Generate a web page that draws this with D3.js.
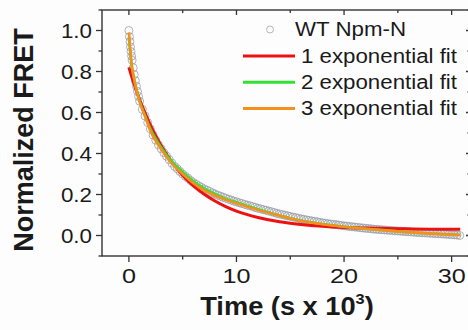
<!DOCTYPE html>
<html>
<head>
<meta charset="utf-8">
<style>
  body { margin: 0; background: #fdfdfd; }
  svg { display: block; }
  text { font-family: "Liberation Sans", Arial, sans-serif; fill: #1a1a1a; }
</style>
</head>
<body>
<script src="https://cdn.jsdelivr.net/npm/d3@7/dist/d3.min.js"></script>
<script>
var width = 468, height = 330;

// measured data (time in s x 10^3, normalized FRET)
var dataTime = [0, 0.05, 0.1, 0.15, 0.2, 0.25, 0.3, 0.4, 0.5, 0.6, 0.7, 0.8, 0.9, 1.0,
  1.25, 1.5, 1.75, 2.0, 2.25, 2.5, 2.75, 3.0, 3.25, 3.5, 3.75, 4.0, 4.25, 4.5, 4.75, 5.0,
  5.25, 5.5, 5.75, 6.0, 6.25, 6.5, 6.75, 7.0, 7.25, 7.5, 7.75, 8.0, 8.25, 8.5, 8.75, 9.0,
  9.25, 9.5, 9.75, 10.0, 10.25, 10.5, 10.75, 11.0, 11.25, 11.5, 11.75, 12.0, 12.25, 12.5, 12.75, 13.0,
  13.25, 13.5, 13.75, 14.0, 14.25, 14.5, 14.75, 15.0, 15.25, 15.5, 15.75, 16.0, 16.25, 16.5, 16.75, 17.0,
  17.25, 17.5, 17.75, 18.0, 18.25, 18.5, 18.75, 19.0, 19.25, 19.5, 19.75, 20.0, 20.25, 20.5, 20.75, 21.0,
  21.25, 21.5, 21.75, 22.0, 22.25, 22.5, 22.75, 23.0, 23.25, 23.5, 23.75, 24.0, 24.25, 24.5, 24.75, 25.0,
  25.25, 25.5, 25.75, 26.0, 26.25, 26.5, 26.75, 27.0, 27.25, 27.5, 27.75, 28.0, 28.25, 28.5, 28.75, 29.0,
  29.25, 29.5, 29.75, 30.0, 30.25, 30.5, 30.75];
var dataFret = [1.00, 0.97, 0.945, 0.92, 0.897, 0.875, 0.855, 0.818, 0.785, 0.755, 0.728, 0.703, 0.678, 0.655,
  0.615, 0.583, 0.551, 0.52, 0.49, 0.465, 0.442, 0.423, 0.404, 0.387, 0.37, 0.353, 0.337, 0.325, 0.312, 0.30,
  0.289, 0.279, 0.268, 0.258, 0.25, 0.242, 0.234, 0.227, 0.221, 0.215, 0.208, 0.202, 0.197, 0.192, 0.187, 0.182,
  0.177, 0.173, 0.168, 0.164, 0.160, 0.156, 0.152, 0.148, 0.145, 0.141, 0.137, 0.133, 0.130, 0.126, 0.123, 0.119,
  0.116, 0.112, 0.108, 0.105, 0.102, 0.099, 0.096, 0.093, 0.090, 0.087, 0.084, 0.081, 0.079, 0.076, 0.074, 0.071,
  0.069, 0.067, 0.064, 0.062, 0.060, 0.058, 0.056, 0.054, 0.053, 0.051, 0.049, 0.047, 0.046, 0.044, 0.043, 0.041,
  0.040, 0.038, 0.037, 0.035, 0.034, 0.033, 0.031, 0.030, 0.029, 0.028, 0.027, 0.026, 0.025, 0.024, 0.023, 0.022,
  0.021, 0.020, 0.019, 0.018, 0.017, 0.016, 0.015, 0.014, 0.0135, 0.013, 0.012, 0.011, 0.010, 0.009, 0.0085, 0.008,
  0.007, 0.006, 0.005, 0.004, 0.003, 0.002, 0.000];

// fitted curves, sampled
var fitTime = [0, 0.25, 0.5, 1, 1.5, 2, 3, 4, 5, 6, 7, 8, 9, 10, 12, 14, 16, 18, 20, 22, 25, 28, 30.8];
var fit1 = [0.82, 0.777, 0.737, 0.662, 0.598, 0.538, 0.438, 0.358, 0.294, 0.242, 0.201, 0.168, 0.141, 0.119, 0.088, 0.067, 0.054, 0.045, 0.039, 0.036, 0.033, 0.031, 0.031];
var fit2 = [0.97, 0.83, 0.76, 0.655, 0.585, 0.52, 0.43, 0.36, 0.31, 0.265, 0.23, 0.203, 0.18, 0.162, 0.128, 0.098, 0.073, 0.056, 0.043, 0.033, 0.02, 0.01, 0.004];
var fit3 = [0.99, 0.84, 0.76, 0.65, 0.58, 0.51, 0.42, 0.35, 0.30, 0.255, 0.22, 0.195, 0.175, 0.157, 0.125, 0.097, 0.072, 0.055, 0.043, 0.033, 0.02, 0.009, 0.002];

var seriesNames = ["1 exponential fit", "2 exponential fit", "3 exponential fit"];
var seriesColors = ["#ee1111", "#33e033", "#f5901e"];
var dataName = "WT Npm-N";

var xTicks = [0, 10, 20, 30];
var yTicks = [0.0, 0.2, 0.4, 0.6, 0.8, 1.0];

var svg = d3.select("body").append("svg")
    .attr("width", width)
    .attr("height", height);

var x = d3.scaleLinear().domain([-2.5, 31.8]).range([102, 471]);
var y = d3.scaleLinear().domain([-0.1, 1.1]).range([256, 10]);

// frame
svg.append("rect")
    .attr("x", x.range()[0]).attr("y", y.range()[1])
    .attr("width", x.range()[1] - x.range()[0])
    .attr("height", y.range()[0] - y.range()[1])
    .attr("fill", "none").attr("stroke", "#333").attr("stroke-width", 1.4);

// ticks
var ax = svg.append("g").attr("stroke", "#333").attr("stroke-width", 1.3);
var xMinor = [5, 15, 25];
var yMinor = [-0.1, 0.1, 0.3, 0.5, 0.7, 0.9, 1.1];
xTicks.forEach(function(v) {
  ax.append("line").attr("x1", x(v)).attr("x2", x(v)).attr("y1", 256).attr("y2", 262);
  ax.append("line").attr("x1", x(v)).attr("x2", x(v)).attr("y1", 10).attr("y2", 15);
});
xMinor.forEach(function(v) {
  ax.append("line").attr("x1", x(v)).attr("x2", x(v)).attr("y1", 256).attr("y2", 259.5);
  ax.append("line").attr("x1", x(v)).attr("x2", x(v)).attr("y1", 10).attr("y2", 13);
});
yTicks.forEach(function(v) {
  ax.append("line").attr("x1", 96).attr("x2", 102).attr("y1", y(v)).attr("y2", y(v));
  ax.append("line").attr("x1", 466).attr("x2", 471).attr("y1", y(v)).attr("y2", y(v));
});
yMinor.forEach(function(v) {
  ax.append("line").attr("x1", 98.5).attr("x2", 102).attr("y1", y(v)).attr("y2", y(v));
  ax.append("line").attr("x1", 467.5).attr("x2", 471).attr("y1", y(v)).attr("y2", y(v));
});

// tick labels
svg.append("g").selectAll("g").data(yTicks).join("g")
    .attr("transform", function(d) { return "translate(92," + y(d) + ") scale(1.12,1)"; })
  .append("text")
    .attr("text-anchor", "end").attr("dy", "0.36em")
    .attr("font-size", 20)
    .text(function(d) { return d3.format(".1f")(d); });

svg.append("g").selectAll("g").data(xTicks).join("g")
    .attr("transform", function(d) { return "translate(" + x(d) + ",283) scale(1.2,1)"; })
  .append("text")
    .attr("text-anchor", "middle")
    .attr("font-size", 21)
    .text(function(d) { return d; });

// axis titles
svg.append("text")
    .attr("transform", "translate(33,140) rotate(-90)")
    .attr("text-anchor", "middle")
    .attr("font-size", 27).attr("font-weight", "bold")
    .text("Normalized FRET");

var xt = svg.append("g").attr("transform", "translate(287,315) scale(1.09,1)")
  .append("text")
    .attr("text-anchor", "middle")
    .attr("font-size", 25).attr("font-weight", "bold");
xt.append("tspan").text("Time (s x 10");
xt.append("tspan").attr("font-size", 15).attr("dy", -11).text("3");
xt.append("tspan").attr("dy", 11).text(")");

// data points
var pts = dataTime.map(function(t, i) { return [t, dataFret[i]]; });
svg.append("g")
    .attr("fill", "none").attr("stroke", "#8f939f").attr("stroke-width", 0.7)
  .selectAll("circle").data(pts).join("circle")
    .attr("cx", function(d) { return x(d[0]); })
    .attr("cy", function(d) { return y(d[1]); })
    .attr("r", 4);

// fits
var line = d3.line()
    .x(function(d) { return x(d[0]); })
    .y(function(d) { return y(d[1]); })
    .curve(d3.curveMonotoneX);
[fit1, fit2, fit3].forEach(function(vals, i) {
  svg.append("path")
      .datum(fitTime.map(function(t, j) { return [t, vals[j]]; }))
      .attr("fill", "none")
      .attr("stroke", seriesColors[i])
      .attr("stroke-width", i == 0 ? 3 : 2.6)
      .attr("d", line);
});

// legend
var lg = svg.append("g");
lg.append("circle").attr("cx", 270).attr("cy", 29.5).attr("r", 3.5)
    .attr("fill", "none").attr("stroke", "#9fa3ae").attr("stroke-width", 0.8);
lg.append("text").attr("x", 295).attr("y", 36)
    .attr("font-size", 19.5)
    .attr("textLength", 111).attr("lengthAdjust", "spacingAndGlyphs")
    .text(dataName);
seriesNames.forEach(function(name, i) {
  var yy = 56 + i * 26.2;
  lg.append("line").attr("x1", 243).attr("x2", 295).attr("y1", yy).attr("y2", yy)
      .attr("stroke", seriesColors[i]).attr("stroke-width", 3);
  lg.append("text").attr("x", 301).attr("y", yy + 7)
      .attr("font-size", 19.5)
      .attr("textLength", 156).attr("lengthAdjust", "spacingAndGlyphs")
      .text(name);
});
</script>
</body>
</html>
